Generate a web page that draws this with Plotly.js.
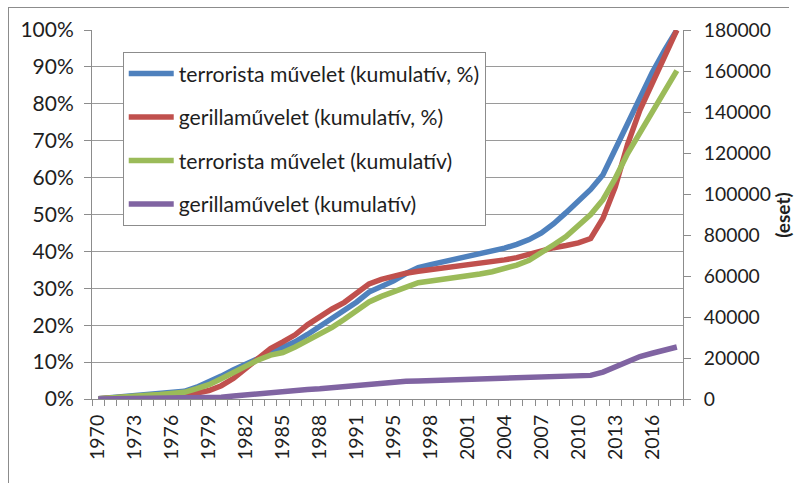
<!DOCTYPE html>
<html>
<head>
<meta charset="utf-8">
<script src="https://cdn.plot.ly/plotly-3.0.1.min.js"></script>
<style>
  html, body { margin: 0; padding: 0; background: #ffffff; }
  #chart { width: 795px; height: 483px; }
  #frame { position: absolute; left: 8px; top: 7px; width: 780px; height: 500px; border: 1px solid #8c8c8c; border-right: none; pointer-events: none; }
</style>
</head>
<body>
<div id="chart"></div>
<div id="frame"></div>
<script>
// Years (1993 is missing from the source data)
const years = ["1970","1971","1972","1973","1974","1975","1976","1977","1978","1979",
  "1980","1981","1982","1983","1984","1985","1986","1987","1988","1989",
  "1990","1991","1992","1994","1995","1996","1997","1998","1999","2000",
  "2001","2002","2003","2004","2005","2006","2007","2008","2009","2010",
  "2011","2012","2013","2014","2015","2016","2017","2018"];

// Labelled years on the category axis
const labelYears = ["1970","1973","1976","1979","1982","1985","1988","1991","1995",
  "1998","2001","2004","2007","2010","2013","2016"];

// terrorista művelet (kumulatív, %) — left axis, percent
const terrorPct = [0.1,0.4,0.7,0.9,1.1,1.3,1.6,2.1,3.2,4.6,
  6.2,7.9,9.4,10.9,12.4,13.9,15.5,17.5,19.7,21.7,
  23.8,26.3,29.0,30.5,32.0,34.0,35.6,36.4,37.1,37.8,
  38.5,39.2,40.0,40.9,41.9,43.2,45.0,47.5,50.5,53.5,
  56.8,60.8,67.8,75.3,82.0,88.5,94.5,100];

// gerillaművelet (kumulatív, %) — left axis, percent
const guerrillaPct = [0.1,0.3,0.5,0.7,0.8,0.9,1.0,1.2,1.6,2.3,
  3.6,5.6,8.3,11.1,13.7,15.5,17.4,20.1,22.3,24.4,
  26.2,28.8,31.2,32.4,33.3,34.1,34.6,35.0,35.4,35.8,
  36.3,36.7,37.2,37.7,38.3,39.2,40.2,41.0,41.6,42.3,
  43.5,49.0,57.5,69.0,78.3,85.5,92.5,100];

// terrorista művelet (kumulatív) — right axis, cases
const terrorCount = [180,720,1080,1440,1800,2160,2520,3240,5040,7020,
  9900,13140,16380,19080,21420,22680,25380,28440,31680,34920,
  38880,43200,47340,50040,52200,54720,56700,57600,58320,59220,
  60120,61020,62100,63540,65340,67680,71100,75240,79200,84240,
  90000,97200,107640,119700,129600,139140,149400,160200];

// gerillaművelet (kumulatív) — right axis, cases
const guerrillaCount = [0,90,180,180,220,270,320,360,450,630,
  900,1440,2070,2700,3240,3780,4320,4680,5040,5580,
  6120,6840,7560,8100,8460,8640,8820,9000,9090,9180,
  9360,9450,9540,9720,9900,10080,10350,10530,10710,10890,
  11520,13140,15660,18360,20700,22320,23940,25380];

const seriesNames = [
  "terrorista művelet (kumulatív, %)",
  "gerillaművelet (kumulatív, %)",
  "terrorista művelet (kumulatív)",
  "gerillaművelet (kumulatív)"
];
const colors = ["#4F81BD", "#C0504D", "#9BBB59", "#8064A2"];
const rightAxisTitle = "(eset)";

const tickText = years.map(y => labelYears.includes(y) ? y : "");

function mk(i, ys, axis) {
  return {
    x: years, y: ys, name: seriesNames[i], type: "scatter", mode: "lines",
    yaxis: axis, legendgroup: "g" + i,
    line: { color: colors[i], width: 5.5, shape: "linear" },
    hoverinfo: "skip"
  };
}

const data = [
  mk(0, terrorPct.map(v => v / 100), "y"),
  mk(1, guerrillaPct.map(v => v / 100), "y"),
  mk(2, terrorCount, "y2"),
  mk(3, guerrillaCount, "y2")
];

const gridGray = "#9a9a9a";
const axisGray = "#8c8c8c";
const textCol = "#1e1e1e";

const layout = {
  width: 795, height: 483,
  margin: { l: 92, r: 112, t: 30, b: 84, pad: 0 },
  paper_bgcolor: "#ffffff", plot_bgcolor: "#ffffff",
  font: { family: "Lato, 'Open Sans', sans-serif", size: 20, color: textCol },
  showlegend: true,
  legend: {
    x: 0.052, y: 0.94, xanchor: "left", yanchor: "top",
    bgcolor: "#ffffff", bordercolor: "#8c8c8c", borderwidth: 1,
    font: { size: 21.2, color: textCol },
    tracegroupgap: 13, traceorder: "grouped", itemwidth: 45
  },
  xaxis: {
    type: "category", range: [-0.5, years.length - 0.5],
    tickmode: "array", tickvals: years, ticktext: tickText,
    tickson: "boundaries", ticks: "outside", ticklen: 6, tickcolor: axisGray,
    ticklabelstandoff: 7,
    tickangle: -90, showgrid: false, showline: true, linecolor: axisGray, linewidth: 1,
    zeroline: false, fixedrange: true, automargin: false,
    tickfont: { size: 19.5, color: textCol }
  },
  yaxis: {
    range: [0, 1], dtick: 0.1, tick0: 0, tickformat: ".0%",
    showgrid: true, gridcolor: gridGray, gridwidth: 1,
    showline: true, linecolor: axisGray, linewidth: 1,
    ticks: "outside", ticklen: 7, tickcolor: axisGray, ticklabelstandoff: 6,
    zeroline: false, fixedrange: true, automargin: false,
    tickfont: { size: 21, color: textCol }
  },
  yaxis2: {
    overlaying: "y", side: "right", anchor: "x",
    range: [0, 180000], dtick: 20000, tick0: 0, tickformat: "d",
    showgrid: false, showline: true, linecolor: axisGray, linewidth: 1,
    ticks: "outside", ticklen: 7, tickcolor: axisGray, ticklabelstandoff: 9,
    zeroline: false, fixedrange: true, automargin: false,
    tickfont: { size: 19.3, color: textCol }
  },
  annotations: [{
    text: "<b>" + rightAxisTitle + "</b>", xref: "paper", yref: "paper",
    x: 1.168, y: 0.5, xanchor: "center", yanchor: "middle",
    textangle: -90, showarrow: false, font: { size: 19, color: textCol }
  }]
};

Plotly.newPlot("chart", data, layout, { staticPlot: true, displayModeBar: false });
</script>
</body>
</html>
